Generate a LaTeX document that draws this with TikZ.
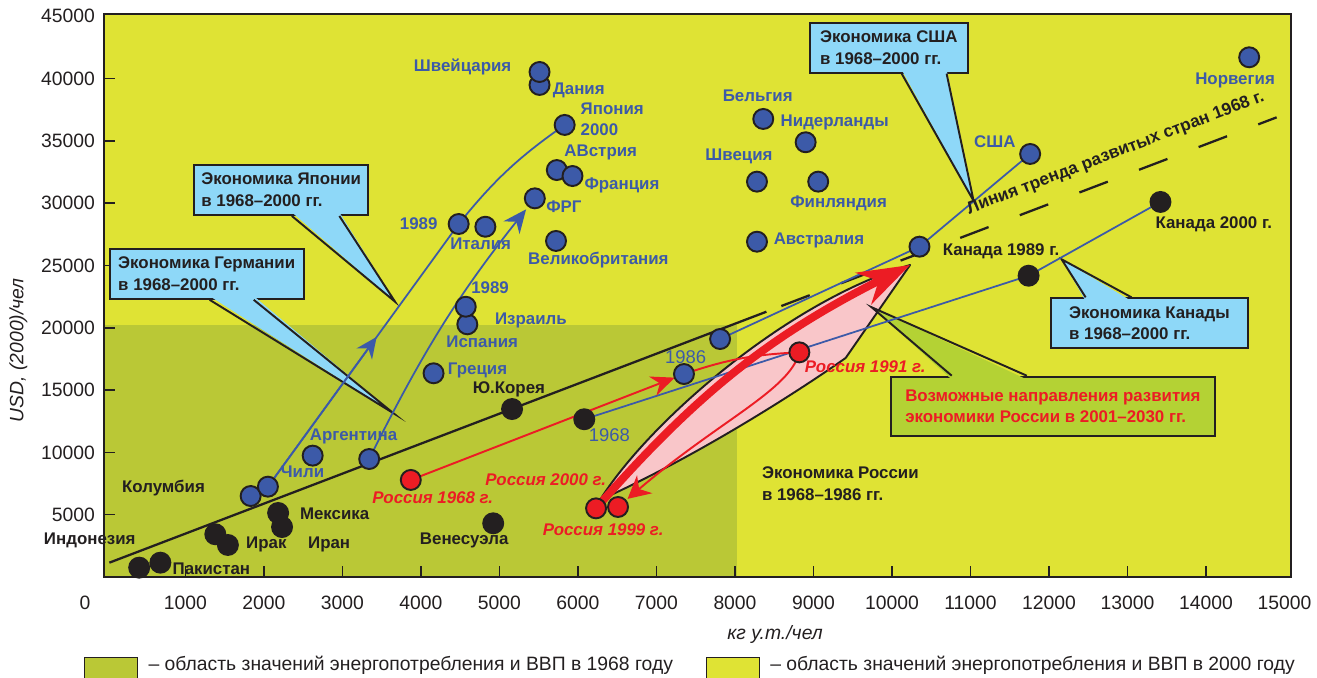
\documentclass[tikz,border=0pt]{standalone}
\usepackage{fontspec}
\setmainfont{Liberation Sans}
\usetikzlibrary{arrows.meta, positioning, calc}
\definecolor{Lime}{RGB}{223,227,52}
\definecolor{Olive}{RGB}{186,200,54}
\definecolor{Sky}{RGB}{142,216,248}
\definecolor{Leaf}{RGB}{180,210,52}
\definecolor{Cobalt}{RGB}{60,90,168}
\definecolor{Scarlet}{RGB}{236,28,36}
\definecolor{Blush}{RGB}{249,198,201}
\definecolor{Ink}{RGB}{35,31,32}

\begin{document}
\begin{tikzpicture}[x=1.57cm, y=0.2492cm,
    every node/.style={font=\fontsize{9.6}{12.3}\selectfont\bfseries, inner sep=0pt, text=Ink},
    bluelab/.style={text=Cobalt},
    yearlab/.style={text=Cobalt, font=\fontsize{10.5}{12}\selectfont},
    redlab/.style={text=Scarlet, font=\fontsize{9.6}{12.3}\selectfont\bfseries\itshape},
    ticklab/.style={font=\fontsize{11}{13}\selectfont},
    axislab/.style={font=\fontsize{11}{13}\selectfont\itshape},
    legtext/.style={font=\fontsize{11}{13}\selectfont},
    legkey/.style={draw=Ink, line width=0.6pt, minimum width=1.06cm, minimum height=0.9cm},
    notebox/.style={draw=Ink, line width=1.1pt, fill=Sky, align=left, minimum height=1cm},
    pointer/.style={draw=Ink, line width=1.1pt, miter limit=40},
    bluedot/.style={fill=Cobalt, draw=Ink, line width=1.1pt},
    blackdot/.style={fill=Ink, draw=Ink, line width=1.1pt},
    reddot/.style={fill=Scarlet, draw=Ink, line width=1.1pt},
    blueline/.style={draw=Cobalt, line width=1pt},
    redline/.style={draw=Scarlet, line width=1.1pt},
    trendline/.style={draw=Ink, line width=1.3pt}
]
\useasboundingbox (-1.363,-8.026) rectangle (15.414,46.308);

% plot area
\fill[Lime] (-0.04,0) rectangle (15.08,45.18);
\fill[Olive] (-0.04,0) rectangle (8.02,20.22);
\draw[Ink, line width=0.9pt] (-0.04,0) rectangle (15.08,45.18);
\foreach \y in {5,10,...,40} \draw[Ink, line width=0.9pt] (-0.04,\y) -- (0.10,\y);
\foreach \x in {1,...,14} \draw[Ink, line width=0.9pt] (\x,0) -- (\x,0.88);

% axes labels
\node[ticklab] (xt0) at (-0.28,-2.09) {0};
\foreach \x in {1,...,15} \node[ticklab] (xt\x) at (\x,-2.09) {\x000};
\foreach \y in {5,10,...,45} \node[ticklab, anchor=east] (yt\y) at (-0.15,\y) {\y000};
\node[axislab, rotate=90] (ylab) at (-1.13,18.2) {USD, (2000)/чел};
\node[axislab] (xlab) at (8.51,-4.65) {кг у.т./чел};

% points
\coordinate (swi) at (5.51,40.53);
\coordinate (den) at (5.51,39.49);
\coordinate (jp00) at (5.83,36.28);
\coordinate (aut) at (5.73,32.66);
\coordinate (fra) at (5.93,32.18);
\coordinate (frg) at (5.45,30.39);
\coordinate (gbr) at (5.72,26.97);
\coordinate (jp89) at (4.48,28.33);
\coordinate (ita) at (4.82,28.11);
\coordinate (isr89) at (4.57,21.69);
\coordinate (esp) at (4.59,20.28);
\coordinate (bel) at (8.36,36.76);
\coordinate (ned) at (8.90,34.89);
\coordinate (swe) at (8.28,31.73);
\coordinate (fin) at (9.06,31.73);
\coordinate (aus) at (8.28,26.91);
\coordinate (usa) at (11.76,33.95);
\coordinate (nor) at (14.55,41.71);
\coordinate (us89) at (10.35,26.51);
\coordinate (us68) at (7.81,19.10);
\coordinate (ru86) at (7.35,16.29);
\coordinate (gre) at (4.16,16.35);
\coordinate (arg) at (2.62,9.74);
\coordinate (de68) at (3.34,9.47);
\coordinate (chl) at (2.05,7.25);
\coordinate (col) at (1.83,6.50);
\coordinate (idn) at (0.41,0.75);
\coordinate (pak) at (0.68,1.15);
\coordinate (irqA) at (1.38,3.43);
\coordinate (irqB) at (1.54,2.57);
\coordinate (mex) at (2.18,5.14);
\coordinate (irn) at (2.23,4.01);
\coordinate (ven) at (4.92,4.31);
\coordinate (kor) at (5.16,13.48);
\coordinate (ca68) at (6.08,12.66);
\coordinate (ca89) at (11.74,24.18);
\coordinate (ca00) at (13.42,30.10);
\coordinate (ru68) at (3.87,7.79);
\coordinate (ru91) at (8.82,18.03);
\coordinate (ru99) at (6.51,5.62);
\coordinate (ru00) at (6.23,5.51);

% Russia 2001-2030 zone
\coordinate (pS) at (6.28,6.18);
\coordinate (ptip) at (10.23,25.04);
\coordinate (pK) at (9.41,17.58);
\filldraw[fill=Blush, draw=Ink, line width=1.1pt, line join=round]
    (pS) .. controls (6.92,12.60) and (8.70,22.23) .. (ptip) -- (pK)
    .. controls (8.83,15.01) and (7.55,9.79) .. (pS) -- cycle;

% callouts
\node[notebox, minimum width=3.48cm] (jpnote) at (2.22,31.06) {Экономика Японии\\в 1968–2000 гг.};
\node[notebox, minimum width=3.88cm] (denote) at (1.27,24.33) {Экономика Германии\\в 1968–2000 гг.};
\node[notebox, minimum width=3.17cm] (usnote) at (9.96,42.48) {Экономика США\\в 1968–2000 гг.};
\node[notebox, minimum width=3.95cm] (canote) at (13.28,20.36) {Экономика Канады\\в 1968–2000 гг.};
\node[notebox, fill=Leaf, text=Scarlet, minimum width=6.49cm, minimum height=1.19cm] (runote) at (12.05,13.69) {Возможные направления развития\\экономики России в 2001–2030 гг.};
\coordinate (jptip) at (3.67,22.09);
\coordinate (detip) at (3.65,13.14);
\coordinate (ustip) at (11.04,30.18);
\coordinate (catip) at (12.16,25.50);
\coordinate (rutip) at (9.74,21.65);
\foreach \n/\a/\b/\c in {jp/0.56/0.83/Sky, de/0.515/0.74/Sky, us/0.58/0.86/Sky} {
    \fill[\c] ($(\n note.south west)!\a!(\n note.south east)+(0,0.3)$) -- (\n tip)
        -- ($(\n note.south west)!\b!(\n note.south east)+(0,0.3)$) -- cycle;
    \draw[pointer] ($(\n note.south west)!\a!(\n note.south east)$) -- (\n tip)
        -- ($(\n note.south west)!\b!(\n note.south east)$);
}
\foreach \n/\a/\b/\c in {ca/0.18/0.41/Sky, ru/0.19/0.42/Leaf} {
    \fill[\c] ($(\n note.north west)!\a!(\n note.north east)+(0,-0.3)$) -- (\n tip)
        -- ($(\n note.north west)!\b!(\n note.north east)+(0,-0.3)$) -- cycle;
    \draw[pointer] ($(\n note.north west)!\a!(\n note.north east)$) -- (\n tip)
        -- ($(\n note.north west)!\b!(\n note.north east)$);
}

% trend of developed countries, 1968
\coordinate (tr0) at (0.03,1.15);
\coordinate (tr1) at (8.40,21.29);
\coordinate (tr2) at (14.90,36.89);
\draw[trendline] (tr0) -- (tr1);
\draw[trendline, dash pattern=on 17.3pt off 19pt, dash phase=27.2pt] (tr1) -- (tr2);

% country paths
\draw[blueline] (chl) -- (jp89) to[bend left=8] (jp00);
\draw[blueline, -{Stealth[length=0.42cm, width=0.38cm]}] (chl) -- ($(chl)!0.57!(jp89)$);
\draw[blueline, -{Stealth[length=0.47cm, width=0.41cm]}, shorten >=0.28cm] (de68) to[bend left=6] (frg);
\draw[blueline] (us68) -- (us89) -- (usa);
\draw[blueline] (ca68) -- (ca89) -- (ca00);
\draw[redline, -{Stealth[length=0.47cm, width=0.41cm]}, shorten >=0.2cm] (ru68) -- (ru86);
\draw[redline] (ru86) to[bend left=8] (ru91);
\draw[redline, -{Stealth[length=0.45cm, width=0.47cm]}, shorten >=0.25cm]
    (ru91) .. controls (8.70,15.01) and (7.81,12.60) .. (ru99);
\draw[Scarlet, line width=4.5pt, -{Stealth[length=1.04cm, width=0.7cm]}] (ru00) to[bend left=11] (ptip);

% dots
\foreach \p in {den,swi,jp00,aut,fra,frg,gbr,jp89,ita,esp,isr89,bel,ned,swe,fin,aus,usa,nor,us89,us68,ru86,gre,arg,de68,col,chl}
    \filldraw[bluedot] (\p) circle (0.2cm);
\foreach \p in {idn,pak,irqA,irqB,mex,irn,ven,kor,ca68,ca89,ca00}
    \filldraw[blackdot] (\p) circle (0.2cm);
\foreach \p in {ru68,ru91,ru00,ru99}
    \filldraw[reddot] (\p) circle (0.2cm);

% country labels
\node[bluelab] (swilab) at (4.53,40.91) {Швейцария};
\node[bluelab] (denlab) at (6.01,39.09) {Дания};
\node[bluelab, anchor=west, align=left] (jplab) at (6.03,36.74) {Япония\\2000};
\node[bluelab] (autlab) at (6.29,34.08) {АВстрия};
\node[bluelab] (fralab) at (6.56,31.46) {Франция};
\node[bluelab] (frglab) at (5.82,29.70) {ФРГ};
\node[bluelab] (gbrlab) at (6.26,25.42) {Великобритания};
\node[bluelab] (jp89lab) at (3.97,28.35) {1989};
\node[bluelab] (italab) at (4.76,26.73) {Италия};
\node[bluelab] (isr89lab) at (4.88,23.23) {1989};
\node[bluelab] (isrlab) at (5.40,20.55) {Израиль};
\node[bluelab] (esplab) at (4.78,18.86) {Испания};
\node[bluelab] (grelab) at (4.72,16.56) {Греция};
\node[yearlab] (ru86lab) at (7.37,17.68) {1986};
\node[yearlab] (ca68lab) at (6.40,11.40) {1968};
\node[bluelab] (bellab) at (8.29,38.60) {Бельгия};
\node[bluelab] (nedlab) at (9.27,36.52) {Нидерланды};
\node[bluelab] (swelab) at (8.05,33.73) {Швеция};
\node[bluelab] (finlab) at (9.32,30.02) {Финляндия};
\node[bluelab] (auslab) at (9.07,27.05) {Австралия};
\node[bluelab] (usalab) at (11.31,34.94) {США};
\node[bluelab] (norlab) at (14.37,39.83) {Норвегия};
\node[bluelab] (arglab) at (3.14,11.26) {Аргентина};
\node[bluelab] (chllab) at (2.49,8.45) {Чили};
\node (collab) at (0.72,7.12) {Колумбия};
\node (idnlab) at (-0.22,2.97) {Индонезия};
\node (paklab) at (1.33,0.70) {Пакистан};
\node (irqlab) at (2.03,2.65) {Ирак};
\node (mexlab) at (2.90,5.11) {Мексика};
\node (irnlab) at (2.83,2.65) {Иран};
\node (venlab) at (4.55,2.91) {Венесуэла};
\node (korlab) at (5.12,15.06) {Ю.Корея};
\node (ca89lab) at (11.39,26.11) {Канада 1989 г.};
\node (ca00lab) at (14.10,28.33) {Канада 2000 г.};
\node[anchor=west, align=left] (rusecolab) at (8.34,7.50) {Экономика России\\в 1968–1986 гг.};
\node[redlab] (ru68lab) at (4.15,6.34) {Россия 1968 г.};
\node[redlab] (ru91lab) at (9.66,16.88) {Россия 1991 г.};
\node[redlab] (ru00lab) at (5.59,7.79) {Россия 2000 г.};
\node[redlab] (ru99lab) at (6.32,3.77) {Россия 1999 г.};
\node[rotate=21, font=\fontsize{9.8}{12}\selectfont\bfseries] (trendlab) at (12.85,34.0) {Линия тренда развитых стран 1968 г.};

% legend
\node[legkey, fill=Olive, anchor=north west] (key68) at (-0.29,-6.42) {};
\node[legtext, right=0.2cm of key68.north east, yshift=-0.16cm] (leg68) {– область значений энергопотребления и ВВП в 1968 году};
\node[legkey, fill=Lime, anchor=north west] (key00) at (7.63,-6.42) {};
\node[legtext, right=0.2cm of key00.north east, yshift=-0.16cm] (leg00) {– область значений энергопотребления и ВВП в 2000 году};
\end{tikzpicture}
\end{document}
